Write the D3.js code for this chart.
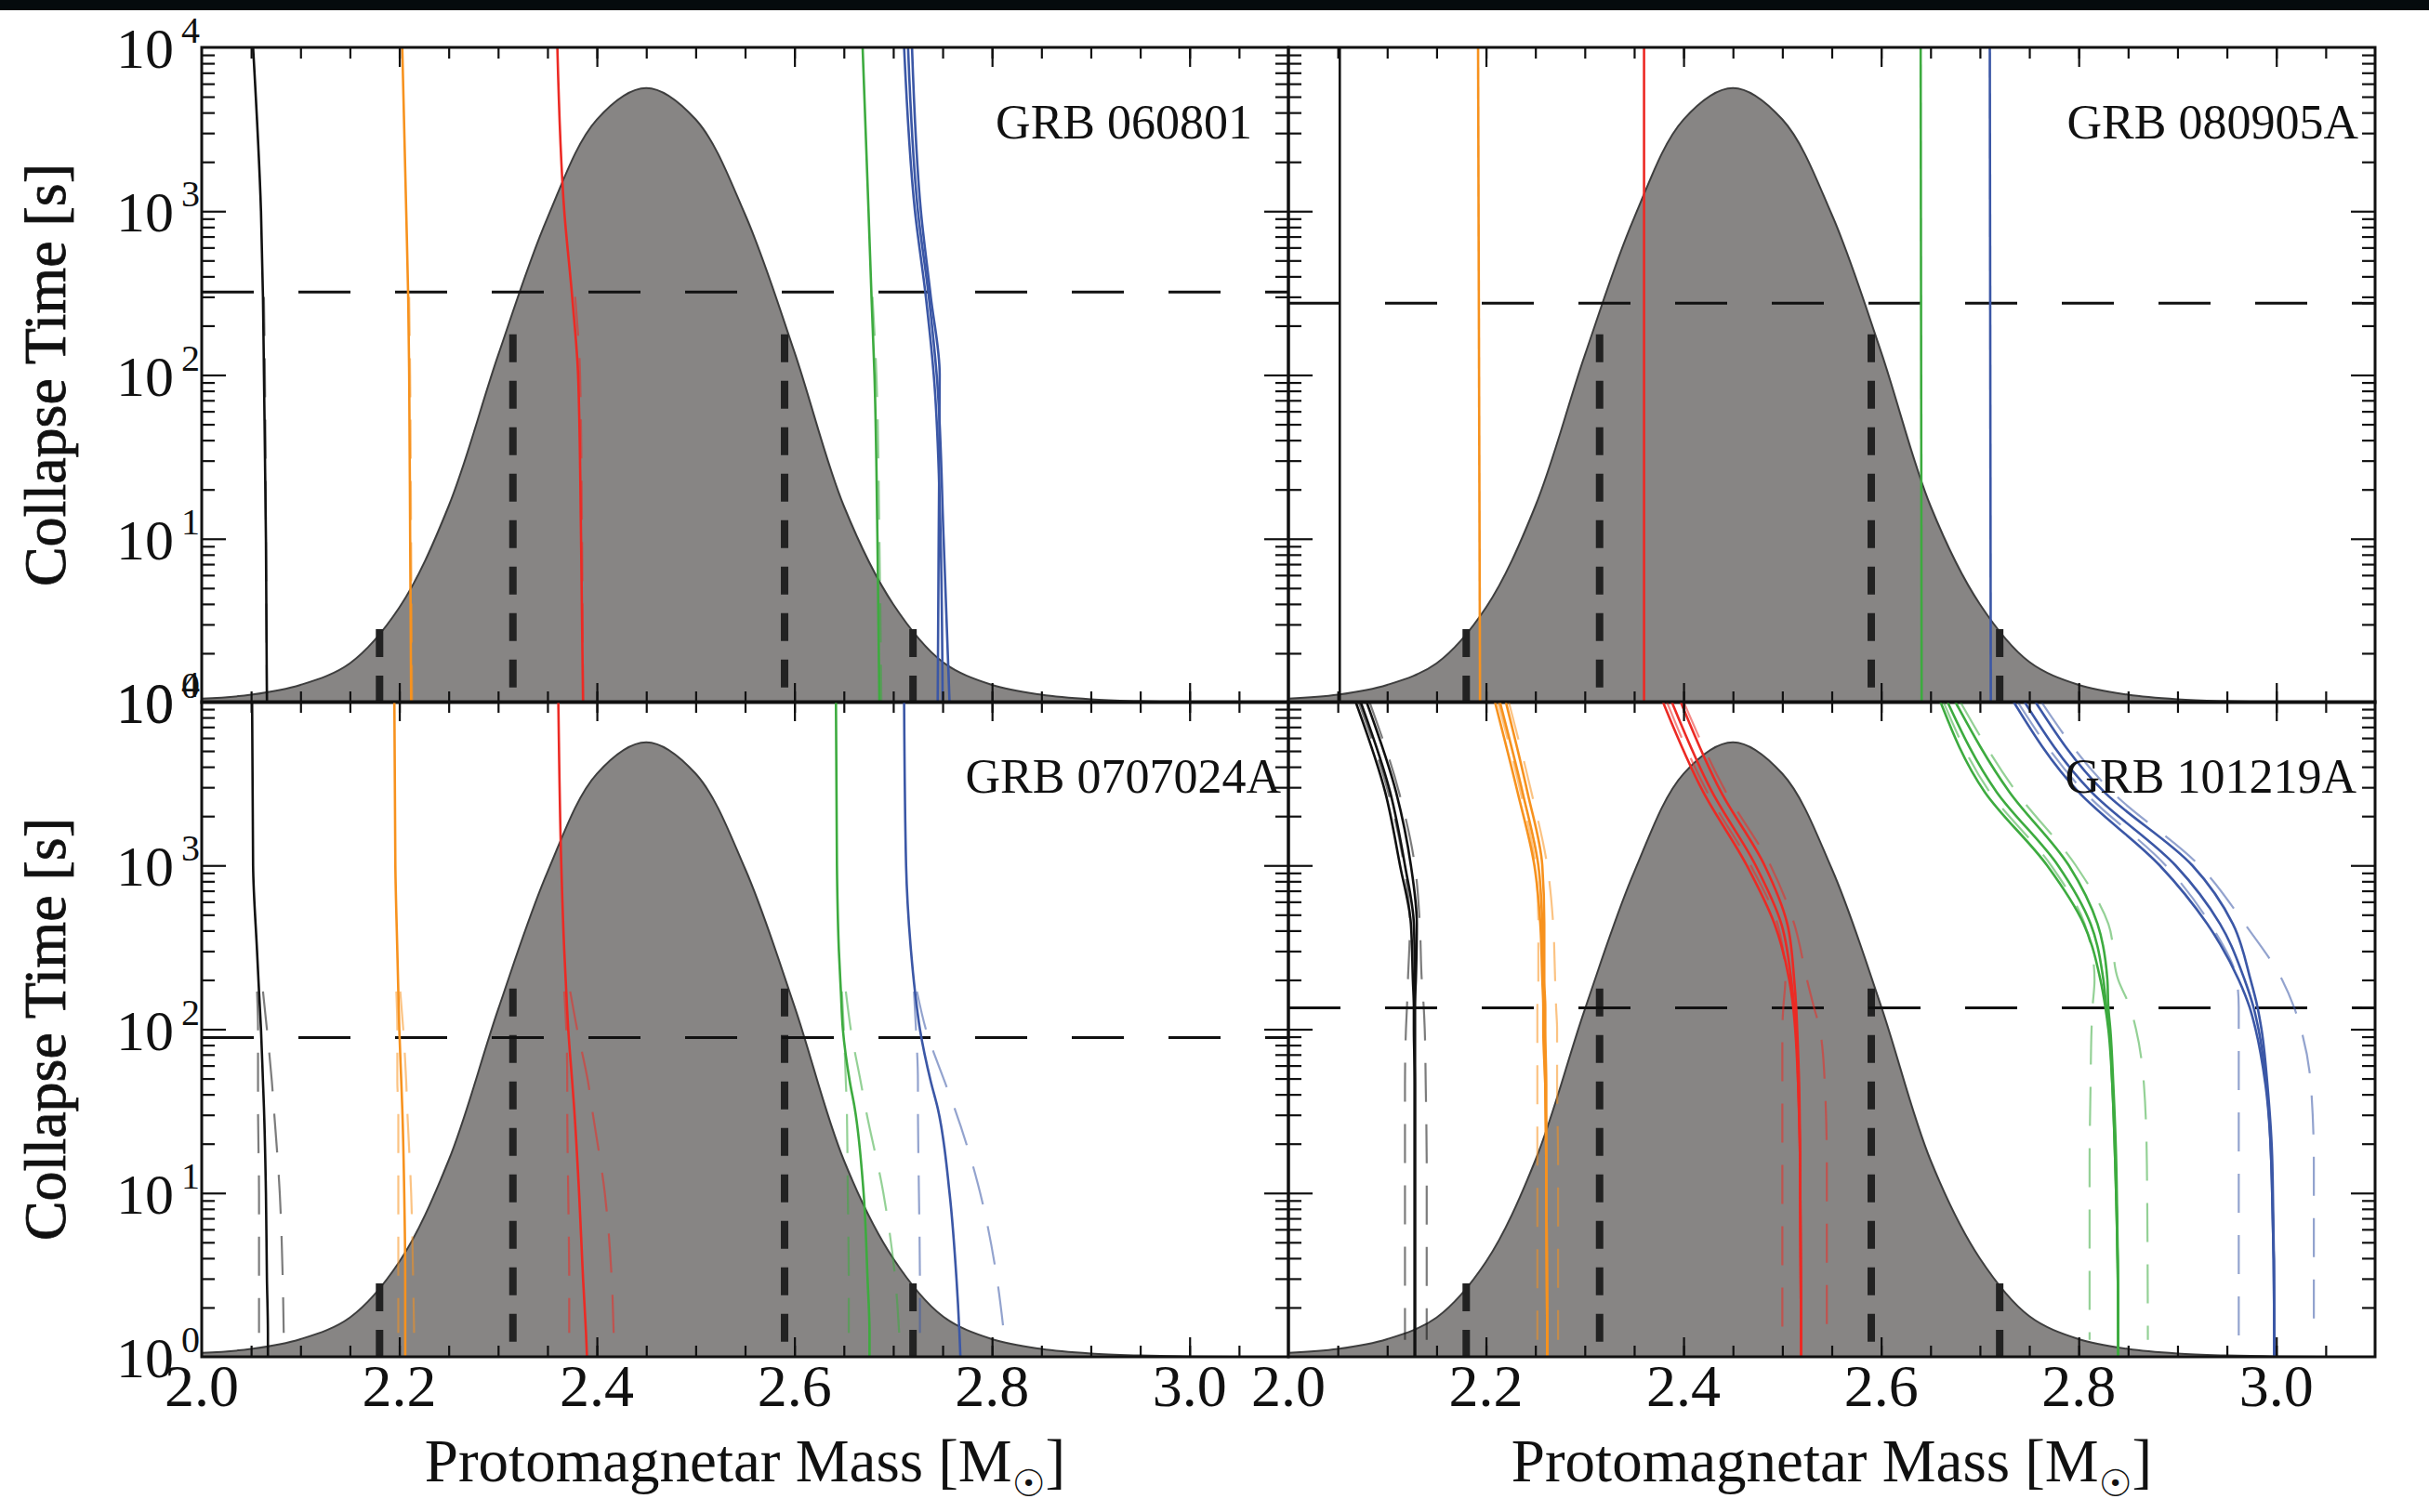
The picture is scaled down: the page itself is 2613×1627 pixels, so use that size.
<!DOCTYPE html>
<html><head><meta charset="utf-8">
<script src="https://cdn.jsdelivr.net/npm/d3@7"></script>
<style>body{margin:0;background:#fff}svg{display:block}</style>
</head><body><svg id="c" width="2613" height="1627"></svg>
<script>
// ---------------- DATA ----------------
const panelNames = ["GRB 060801", "GRB 080905A", "GRB 0707024A", "GRB 101219A"];
const plateauTime = [321, 274, 89, 135];          // horizontal dashed line [s]
const massTickValues = [2.0, 2.2, 2.4, 2.6, 2.8, 3.0];
const massTickLabels = ["2.0", "2.2", "2.4", "2.6", "2.8", "3.0"];
const timeDecades = [1, 10, 100, 1000, 10000];
const timeExponents = ["0", "1", "2", "3", "4"];

// protomagnetar mass distribution (relative probability, 1 = panel top)
const distMass    = [2.00, 2.05, 2.10, 2.15, 2.20, 2.25, 2.30, 2.35, 2.40, 2.45, 2.50, 2.55, 2.60, 2.65, 2.70, 2.75, 2.80, 2.85, 2.90, 2.95, 3.00, 3.10];
const distDensity = [0.006, 0.012, 0.027, 0.060, 0.145, 0.300, 0.530, 0.740, 0.890, 0.938, 0.890, 0.745, 0.535, 0.300, 0.150, 0.062, 0.027, 0.012, 0.005, 0.002, 0.0005, 0.0];

// confidence-interval markers (mass, relative height)
const sigmaMass    = [2.18, 2.315, 2.59, 2.72];
const sigmaDensity = [0.112, 0.562, 0.562, 0.112];

// EoS curves: [eosIndex, dashed, masses on the panel's time grid]
const times060801 = [10000, 1000, 300, 100, 10, 1];
const lines060801 = [
  [0, 0, [2.052, 2.060, 2.062, 2.063, 2.065, 2.066]],
  [0, 1, [null, null, 2.063, 2.064, 2.065, 2.066]],
  [1, 0, [2.203, 2.207, 2.209, 2.210, 2.211, 2.212]],
  [1, 1, [null, null, 2.210, 2.211, 2.212, 2.213]],
  [2, 0, [2.360, 2.367, 2.375, 2.381, 2.384, 2.386]],
  [2, 1, [null, null, 2.378, 2.383, 2.385, 2.386]],
  [3, 0, [2.669, 2.675, 2.678, 2.681, 2.684, 2.686]],
  [3, 1, [null, null, 2.679, 2.683, 2.686, 2.688]],
  [4, 0, [2.711, 2.722, 2.733, 2.741, 2.748, 2.750]],
  [4, 0, [2.715, 2.725, 2.736, 2.744, 2.751, 2.757]],
  [4, 0, [2.719, 2.728, 2.738, 2.747, 2.746, 2.745]]
];
const times080905A = [10000, 1];
const lines080905A = [
  [0, 0, [2.052, 2.052]],
  [1, 0, [2.192, 2.194]],
  [2, 0, [2.360, 2.360]],
  [3, 0, [2.640, 2.641]],
  [4, 0, [2.710, 2.711]]
];
const times0707024A = [10000, 1000, 300, 170, 100, 48, 33, 10, 3, 1.4, 1];
const lines0707024A = [
  [0, 0, [2.051, 2.052, 2.056, 2.058, 2.060, 2.062, 2.063, 2.065, 2.066, 2.067, 2.067]],
  [0, 1, [null, null, null, 2.056, 2.057, 2.057, 2.057, 2.058, 2.058, 2.058, null]],
  [0, 1, [null, null, null, 2.062, 2.066, 2.071, 2.073, 2.079, 2.082, 2.083, null]],
  [1, 0, [2.195, 2.196, 2.198, 2.199, 2.200, 2.202, 2.203, 2.205, 2.206, 2.206, 2.206]],
  [1, 1, [null, null, null, 2.197, 2.198, 2.198, 2.199, 2.199, 2.199, 2.199, null]],
  [1, 1, [null, null, null, 2.201, 2.204, 2.207, 2.208, 2.212, 2.214, 2.215, null]],
  [2, 0, [2.361, 2.364, 2.367, 2.369, 2.371, 2.375, 2.377, 2.382, 2.386, 2.389, 2.390]],
  [2, 1, [null, null, null, 2.367, 2.369, 2.370, 2.370, 2.371, 2.372, 2.372, null]],
  [2, 1, [null, null, null, 2.373, 2.380, 2.391, 2.395, 2.408, 2.415, 2.417, null]],
  [3, 0, [2.642, 2.643, 2.645, 2.647, 2.649, 2.656, 2.661, 2.670, 2.674, 2.676, 2.676]],
  [3, 1, [null, null, null, 2.648, 2.650, 2.652, 2.653, 2.654, 2.655, 2.655, null]],
  [3, 1, [null, null, null, 2.652, 2.657, 2.667, 2.672, 2.690, 2.702, 2.706, null]],
  [4, 0, [2.711, 2.713, 2.718, 2.722, 2.727, 2.738, 2.745, 2.757, 2.764, 2.767, 2.768]],
  [4, 1, [null, null, null, 2.721, 2.723, 2.725, 2.725, 2.726, 2.727, 2.727, null]],
  [4, 1, [null, null, null, 2.724, 2.733, 2.752, 2.762, 2.788, 2.805, 2.812, null]]
];
const times101219A = [10000, 2800, 1000, 440, 200, 136, 100, 46, 15, 1.27, 1];
const lines101219A = [
  [0, 0, [2.068, 2.098, 2.113, 2.124, 2.126, 2.127, 2.127, 2.128, 2.128, 2.128, 2.128]],
  [0, 0, [2.073, 2.103, 2.118, 2.127, 2.128, 2.128, 2.128, 2.128, 2.128, 2.128, 2.128]],
  [0, 0, [2.079, 2.109, 2.124, 2.130, 2.129, 2.128, 2.128, 2.128, 2.128, 2.128, 2.128]],
  [0, 1, [2.071, 2.101, 2.117, 2.123, 2.121, 2.120, 2.119, 2.118, 2.118, 2.118, null]],
  [0, 1, [2.082, 2.112, 2.128, 2.133, 2.135, 2.137, 2.138, 2.139, 2.140, 2.140, null]],
  [1, 0, [2.209, 2.232, 2.249, 2.255, 2.257, 2.258, 2.258, 2.260, 2.261, 2.262, 2.262]],
  [1, 0, [2.214, 2.237, 2.253, 2.257, 2.258, 2.259, 2.259, 2.260, 2.261, 2.262, 2.262]],
  [1, 0, [2.220, 2.242, 2.257, 2.259, 2.259, 2.260, 2.260, 2.261, 2.261, 2.262, 2.262]],
  [1, 1, [2.212, 2.235, 2.250, 2.253, 2.253, 2.252, 2.252, 2.252, 2.252, 2.252, null]],
  [1, 1, [2.223, 2.246, 2.262, 2.268, 2.270, 2.271, 2.272, 2.272, 2.273, 2.273, null]],
  [2, 0, [2.379, 2.420, 2.464, 2.492, 2.507, 2.511, 2.513, 2.516, 2.518, 2.519, 2.519]],
  [2, 0, [2.388, 2.429, 2.473, 2.499, 2.509, 2.512, 2.514, 2.516, 2.518, 2.519, 2.519]],
  [2, 0, [2.397, 2.438, 2.482, 2.505, 2.512, 2.514, 2.515, 2.517, 2.518, 2.519, 2.519]],
  [2, 1, [2.383, 2.424, 2.468, 2.495, 2.503, 2.501, 2.500, 2.500, 2.500, 2.500, null]],
  [2, 1, [2.400, 2.443, 2.488, 2.512, 2.525, 2.532, 2.538, 2.543, 2.545, 2.545, null]],
  [3, 0, [2.660, 2.705, 2.768, 2.805, 2.822, 2.827, 2.830, 2.834, 2.837, 2.840, 2.840]],
  [3, 0, [2.667, 2.717, 2.779, 2.812, 2.825, 2.828, 2.831, 2.834, 2.837, 2.840, 2.840]],
  [3, 0, [2.675, 2.730, 2.790, 2.819, 2.829, 2.830, 2.832, 2.835, 2.838, 2.840, 2.840]],
  [3, 1, [2.663, 2.710, 2.772, 2.806, 2.816, 2.814, 2.813, 2.812, 2.811, 2.811, null]],
  [3, 1, [2.680, 2.737, 2.797, 2.830, 2.840, 2.852, 2.858, 2.866, 2.869, 2.870, null]],
  [4, 0, [2.734, 2.800, 2.882, 2.930, 2.962, 2.973, 2.979, 2.989, 2.995, 2.998, 2.998]],
  [4, 0, [2.745, 2.813, 2.898, 2.943, 2.968, 2.977, 2.982, 2.990, 2.995, 2.998, 2.998]],
  [4, 0, [2.756, 2.826, 2.915, 2.956, 2.974, 2.981, 2.985, 2.991, 2.996, 2.998, 2.998]],
  [4, 1, [2.738, 2.806, 2.888, 2.933, 2.960, 2.962, 2.962, 2.962, 2.962, 2.962, null]],
  [4, 1, [2.762, 2.834, 2.922, 2.968, 3.006, 3.018, 3.025, 3.035, 3.038, 3.038, null]]
];
const panelTimes = [times060801, times080905A, times0707024A, times101219A];
const panelLines = [lines060801, lines080905A, lines0707024A, lines101219A];

// ---------------- STYLE / LAYOUT ----------------
const eosColors = ["#111111", "#f7921e", "#ec2a24", "#3dab3f", "#3b57a6"];
const FONT = "'Liberation Serif','Times New Roman',serif";
const PW = 1169, PH = 705;
const panelPos = [[217, 51], [1386, 51], [217, 755], [1386, 755]];
const labelEndX = [1347, 2537, 1378, 2535];

const svg = d3.select("#c");
svg.append("rect").attr("x", 0).attr("y", 0).attr("width", 2613).attr("height", 1627).attr("fill", "#fff");
svg.append("rect").attr("x", 0).attr("y", 0).attr("width", 2613).attr("height", 11).attr("fill", "#050b0d");

const defs = svg.append("defs");

panelPos.forEach(([px, py], i) => {
  const x = d3.scaleLinear().domain([2.0, 3.1]).range([px, px + PW]);
  const y = d3.scaleLog().domain([1, 1e4]).range([py + PH, py]);
  const yd = d3.scaleLinear().domain([0, 1]).range([py + PH, py]);

  defs.append("clipPath").attr("id", "clip" + i)
    .append("rect").attr("x", px).attr("y", py).attr("width", PW).attr("height", PH);
  const g = svg.append("g").attr("clip-path", `url(#clip${i})`);

  // mass distribution
  const dist = distMass.map((m, k) => [m, distDensity[k]]);
  g.append("path").datum(dist)
    .attr("d", d3.area().x(d => x(d[0])).y0(py + PH).y1(d => yd(d[1])).curve(d3.curveCatmullRom.alpha(0.5)))
    .attr("fill", "#878584").attr("stroke", "#3e3e3e").attr("stroke-width", 2);

  // sigma markers
  g.selectAll(".sig").data(sigmaMass.map((m, k) => [m, sigmaDensity[k]])).enter()
    .append("path")
    .attr("d", d => `M${x(d[0])},${yd(d[1])}V${py + PH}`)
    .attr("stroke", "#222").attr("stroke-width", 8).attr("stroke-dasharray", "30,20").attr("fill", "none");

  // plateau time
  g.append("line")
    .attr("x1", x(2.0)).attr("x2", x(3.1))
    .attr("y1", y(plateauTime[i])).attr("y2", y(plateauTime[i]))
    .attr("stroke", "#111").attr("stroke-width", 3).attr("stroke-dasharray", "56,48");

  // EoS curves
  const times = panelTimes[i];
  const lineGen = d3.line().defined(d => d[0] !== null)
    .x(d => x(d[0])).y(d => y(d[1])).curve(d3.curveMonotoneY);
  const lines = panelLines[i].slice().sort((a, b) => b[1] - a[1]);
  lines.forEach(([eos, dashed, masses]) => {
    const pts = masses.map((m, k) => [m, times[k]]);
    g.append("path").datum(pts).attr("d", lineGen)
      .attr("fill", "none")
      .attr("stroke", eosColors[eos])
      .attr("stroke-width", dashed ? 2.2 : 2.6)
      .attr("stroke-opacity", dashed ? 0.55 : 1)
      .attr("stroke-dasharray", dashed ? "42,24" : null);
  });

  // axes: ticks inward on all sides
  const minorX = d3.range(2.05, 3.09, 0.05).map(v => +v.toFixed(2));
  const majorX = massTickValues.slice(1);
  const minorY = [];
  [1, 10, 100, 1000].forEach(dec => { for (let k = 2; k <= 9; k++) minorY.push(dec * k); });
  const majorY = [10, 100, 1000];
  const ax = svg.append("g");
  const addAxis = (gen, tx, ty, vals, size, sc) => {
    const a = ax.append("g").attr("transform", `translate(${tx},${ty})`)
      .call(gen(sc).tickValues(vals).tickSize(size).tickSizeOuter(0).tickFormat(""));
    a.select(".domain").remove();
    a.selectAll("line").attr("stroke", "#111").attr("stroke-width", 2.2);
  };
  addAxis(d3.axisTop, 0, py + PH, minorX, 12, x);
  addAxis(d3.axisTop, 0, py + PH, majorX, 21, x);
  addAxis(d3.axisBottom, 0, py, minorX, 12, x);
  addAxis(d3.axisBottom, 0, py, majorX, 21, x);
  addAxis(d3.axisRight, px, 0, minorY, 14, y);
  addAxis(d3.axisRight, px, 0, majorY, 26, y);
  addAxis(d3.axisLeft, px + PW, 0, minorY, 14, y);
  addAxis(d3.axisLeft, px + PW, 0, majorY, 26, y);

  // frame
  svg.append("rect").attr("x", px).attr("y", py).attr("width", PW).attr("height", PH)
    .attr("fill", "none").attr("stroke", "#111").attr("stroke-width", 3);

  // panel label
  svg.append("text").attr("x", labelEndX[i]).attr("y", py + 98)
    .attr("text-anchor", "end").attr("font-family", FONT).attr("font-size", 52)
    .attr("fill", "#111").text(panelNames[i]);

  // y tick labels (left column)
  if (i % 2 === 0) {
    timeDecades.forEach((t, k) => {
      const ty = y(t);
      svg.append("text").attr("x", px - 30).attr("y", ty + 22).attr("text-anchor", "end")
        .attr("font-family", FONT).attr("font-size", 62).attr("fill", "#111").text("10");
      svg.append("text").attr("x", px - 22).attr("y", ty - 5).attr("text-anchor", "start")
        .attr("font-family", FONT).attr("font-size", 40).attr("fill", "#111").text(timeExponents[k]);
    });
    svg.append("text")
      .attr("transform", `translate(70,${py + PH / 2}) rotate(-90)`)
      .attr("text-anchor", "middle").attr("font-family", FONT).attr("font-size", 64)
      .attr("fill", "#111").attr("stroke", "#111").attr("stroke-width", 0.8)
      .text("Collapse Time [s]");
  }
  // x tick labels (bottom row)
  if (i >= 2) {
    massTickValues.forEach((m, k) => {
      svg.append("text").attr("x", x(m)).attr("y", py + PH + 53).attr("text-anchor", "middle")
        .attr("font-family", FONT).attr("font-size", 64).attr("fill", "#111").text(massTickLabels[k]);
    });
    const t = svg.append("text").attr("x", px + PW / 2).attr("y", 1594).attr("text-anchor", "middle")
      .attr("font-family", FONT).attr("font-size", 65).attr("fill", "#111");
    t.append("tspan").text("Protomagnetar Mass [M");
    t.append("tspan").attr("dy", 16).attr("font-size", 40).attr("font-family", "'DejaVu Sans',sans-serif").text("\u2609");
    t.append("tspan").attr("dy", -16).text("]");
  }
});
</script></body></html>
